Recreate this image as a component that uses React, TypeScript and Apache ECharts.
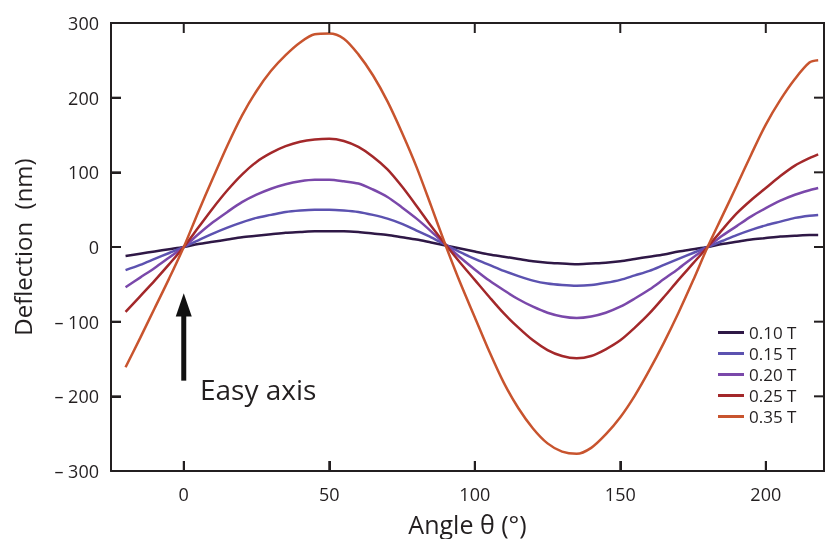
import React, { useEffect, useRef } from "react";
import * as echarts from "echarts";

const angles = [-20, -15, -10, -5, 0, 5, 10, 15, 20, 25, 30, 35, 40, 45, 50, 55, 60, 65, 70, 75, 80, 85, 90, 95, 100, 105, 110, 115, 120, 125, 130, 135, 140, 145, 150, 155, 160, 165, 170, 175, 180, 185, 190, 195, 200, 205, 210, 215, 218];
const t010 = [-12, -9, -6, -3, 0, 4, 7, 10, 13, 15, 17, 19, 20, 21, 21, 21, 20, 18, 16, 13, 10, 6, 2, -2, -6, -10, -13, -16, -19, -21, -22, -23, -22, -21, -19, -16, -13, -10, -6, -3, 0, 4, 7, 10, 12, 14, 15, 16, 16];
const t015 = [-31, -24, -16, -8, 0, 9, 18, 26, 33, 39, 43, 47, 49, 50, 50, 49, 47, 43, 38, 31, 22, 13, 3, -7, -16, -24, -32, -39, -45, -49, -51, -52, -51, -48, -44, -38, -32, -24, -16, -8, 0, 8, 16, 23, 29, 34, 39, 42, 43];
const t020 = [-54, -41, -28, -14, 0, 17, 33, 47, 60, 70, 78, 84, 88, 90, 90, 88, 85, 77, 67, 53, 38, 21, 3, -14, -30, -45, -58, -70, -80, -88, -93, -95, -93, -88, -80, -69, -57, -43, -29, -14, 0, 15, 28, 41, 52, 62, 70, 76, 79];
const t025 = [-87, -66, -45, -23, 0, 26, 52, 76, 97, 114, 126, 135, 141, 144, 145, 142, 134, 121, 104, 81, 55, 28, 3, -21, -44, -67, -89, -108, -125, -138, -146, -149, -146, -137, -125, -108, -89, -67, -44, -22, 0, 23, 45, 63, 79, 95, 109, 119, 124];
const t035 = [-161, -122, -82, -42, 0, 47, 92, 136, 176, 209, 236, 257, 274, 285, 286, 279, 258, 230, 195, 153, 107, 55, 2, -48, -94, -140, -182, -216, -243, -263, -274, -277, -269, -251, -228, -199, -165, -128, -88, -45, 0, 41, 82, 124, 164, 197, 225, 247, 250];

const seriesNames = ["0.10 T", "0.15 T", "0.20 T", "0.25 T", "0.35 T"];
const seriesValues = [t010, t015, t020, t025, t035];
const colors = ["#2f1846", "#5c52b0", "#7a48aa", "#a3282a", "#c8542e"];

const xTicks = [0, 50, 100, 150, 200];
const yTicks = [-300, -200, -100, 0, 100, 200, 300];
const xRange = [-25, 220];
const yRange = [-300, 300];

const FONT = "Open Sans";
const INK = "#231f20";

export default function App() {
  const ref = useRef<HTMLDivElement>(null);
  useEffect(() => {
    if (!ref.current) return;
    const chart = echarts.init(ref.current, null, { renderer: "svg" });
    chart.setOption({
      animation: false,
      textStyle: { fontFamily: FONT },
      grid: { left: 111, right: 6, top: 23, bottom: 68, containLabel: false, outerBoundsMode: "none" },
      xAxis: {
        type: "value",
        min: xRange[0],
        max: xRange[1],
        axisLine: { show: true, onZero: false, lineStyle: { color: INK, width: 2 } },
        axisTick: { show: true, inside: true, length: 10, customValues: xTicks, lineStyle: { color: INK, width: 2 } },
        axisLabel: { customValues: xTicks, color: INK, fontSize: 18, margin: 14, fontFamily: FONT },
        splitLine: { show: false },
        name: "Angle θ (°)",
        nameLocation: "middle",
        nameGap: 40,
        nameTextStyle: { color: INK, fontSize: 25, fontFamily: FONT },
      },
      yAxis: {
        type: "value",
        min: yRange[0],
        max: yRange[1],
        interval: 100,
        axisLine: { show: true, onZero: false, lineStyle: { color: INK, width: 2 } },
        axisTick: { show: true, inside: true, length: 10, lineStyle: { color: INK, width: 2 } },
        axisLabel: {
          color: INK,
          fontSize: 18,
          margin: 12,
          fontFamily: FONT,
          formatter: (v: number) => (v < 0 ? "– " + Math.abs(v) : String(v)),
        },
        splitLine: { show: false },
        name: "Deflection  (nm)",
        nameLocation: "middle",
        nameGap: 77,
        nameTextStyle: { color: INK, fontSize: 24, fontFamily: FONT },
      },
      legend: {
        orient: "vertical",
        left: 718,
        top: 324,
        itemWidth: 26,
        itemHeight: 3,
        itemGap: 4,
        icon: "rect",
        padding: 0,
        textStyle: { color: INK, fontSize: 17, lineHeight: 17, fontFamily: FONT },
        data: seriesNames,
      },
      series: seriesNames.map((name, i) => ({
        name,
        type: "line",
        smooth: 0.3,
        showSymbol: false,
        color: colors[i],
        lineStyle: { width: 2.5, color: colors[i] },
        data: angles.map((a, j) => [a, seriesValues[i][j]]),
      })),
    });

    const px = (v: number) => chart.convertToPixel({ xAxisIndex: 0 }, v) as number;
    const py = (v: number) => chart.convertToPixel({ yAxisIndex: 0 }, v) as number;
    const L = px(xRange[0]);
    const R = px(xRange[1]);
    const T = py(yRange[1]);
    const B = py(yRange[0]);
    const TL = 10;
    const tickStyle = () => ({ stroke: INK, lineWidth: 2, fill: null });
    const g: any[] = [
      { type: "polyline", z: 100, shape: { points: [[L - 1, T], [R, T], [R, B + 1]] }, style: tickStyle() },
    ];
    xTicks.forEach((v) => {
      const x = px(v);
      g.push({ type: "polyline", z: 100, shape: { points: [[x, B], [x, B - TL]] }, style: tickStyle() });
      g.push({ type: "polyline", z: 100, shape: { points: [[x, T], [x, T + TL]] }, style: tickStyle() });
    });
    yTicks.forEach((v) => {
      const y = py(v);
      g.push({ type: "polyline", z: 100, shape: { points: [[L, y], [L + TL, y]] }, style: tickStyle() });
      g.push({ type: "polyline", z: 100, shape: { points: [[R, y], [R - TL, y]] }, style: tickStyle() });
    });
    const ax = px(0);
    g.push({ type: "rect", z: 100, shape: { x: ax - 2.5, y: py(-88), width: 5, height: py(-179) - py(-88) }, style: { fill: "#111" } });
    g.push({
      type: "polygon",
      z: 100,
      shape: { points: [[ax, py(-62)], [ax - 8, py(-93)], [ax + 8, py(-93)]] },
      style: { fill: "#111" },
    });
    g.push({
      type: "text",
      z: 100,
      x: 200,
      y: 375,
      style: { text: "Easy axis", fontSize: 28, fill: INK, fontFamily: FONT, verticalAlign: "alphabetic" },
    });
    chart.setOption({ graphic: g });
    return () => chart.dispose();
  }, []);
  return <div ref={ref} style={{ position: "fixed", left: 0, top: 0, width: 830, height: 539 }} />;
}
